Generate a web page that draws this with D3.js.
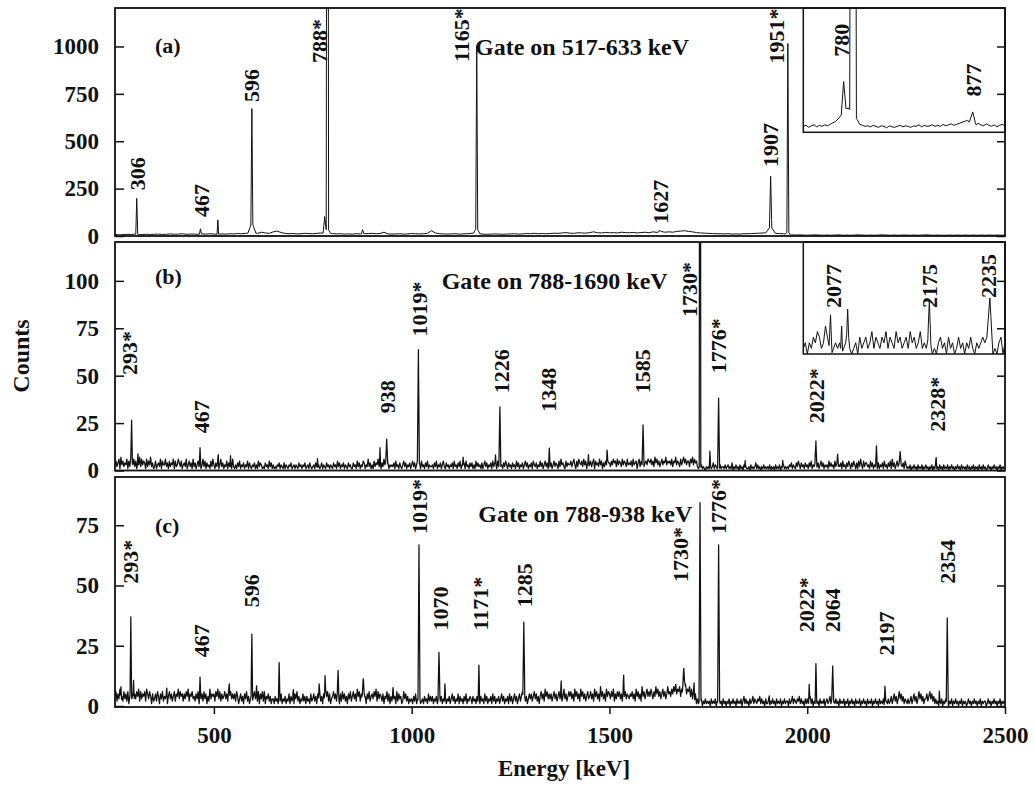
<!DOCTYPE html>
<html>
<head>
<meta charset="utf-8">
<script src="https://cdn.jsdelivr.net/npm/d3@7"></script>
<style>
  body { margin: 0; background: #fff; }
  svg { display: block; }
  text { font-family: "Liberation Serif", "Times New Roman", serif; font-weight: bold; fill: #111; }
</style>
</head>
<body>
<svg id="chart" width="1034" height="787"></svg>
<script>
// energy axis, keV
const energyDomain = [250, 2500];
const energyTicks = [500, 1000, 1500, 2000, 2500];

// ---- panel (a): background counts every 10 keV starting at 250 keV
const bgA = [
  8, 6, 7, 9, 8, 10, 7, 8, 9, 8,
  9, 10, 8, 9, 11, 9, 10, 12, 9, 10,
  10, 9, 11, 10, 12, 10, 9, 11, 10, 12,
  11, 13, 12, 14, 16, 18, 14, 20, 16, 14,
  22, 26, 18, 14, 12, 13, 11, 12, 14, 13,
  12, 14, 16, 14, 12, 13, 11, 12, 10, 11,
  10, 12, 11, 12, 13, 14, 12, 13, 20, 11,
  10, 11, 12, 10, 11, 13, 12, 11, 12, 14,
  28, 16, 12, 11, 10, 11, 12, 10, 11, 12,
  14, 16, 12, 10, 9, 10, 11, 10, 9, 10,
  11, 12, 10, 11, 13, 12, 14, 12, 13, 12,
  13, 15, 14, 16, 18, 15, 14, 17, 16, 15,
  18, 22, 17, 16, 19, 17, 18, 16, 20, 18,
  17, 19, 16, 18, 20, 17, 22, 19, 24, 20,
  22, 20, 24, 26, 28, 24, 22, 18, 16, 15,
  14, 13, 12, 12, 11, 12, 10, 11, 10, 12,
  12, 13, 14, 15, 16, 18, 16, 14, 13, 12,
  8, 6, 5, 6, 5, 4, 5, 6, 5, 4,
  5, 4, 5, 6, 4, 5, 4, 5, 6, 5,
  4, 5, 4, 5, 6, 5, 4, 5, 4, 5,
  5, 4, 5, 4, 5, 6, 5, 4, 5, 4,
  4, 5, 4, 5, 4, 5, 4, 5, 4, 5,
  4, 5, 4, 5, 4, 5
];
// peaks: [energy, height above background, half width]
const peaksA = [
  [305, 190, 2.5], [466, 28, 2.5], [510, 76, 2], [596, 600, 2.5], [596, 55, 10],
  [780, 82, 4], [787, 6000, 3], [787, 30, 9], [876, 22, 3],
  [1164.5, 960, 2.5], [1164.5, 30, 8], [1627, 8, 3],
  [1907.5, 264, 3], [1907.5, 35, 12], [1951, 990, 2.5], [1951, 18, 6]
];
// labels: [text, energy, counts at the foot of the text]
const labelsA = [
  ["306", 305.6, 241], ["467", 469, 100], ["596", 595.6, 707], ["788*", 765.7, 913],
  ["1165*", 1126.5, 918], ["1627", 1627.8, 65], ["1907", 1907.5, 364], ["1951*", 1921, 910]
];
const ticksA = [0, 250, 500, 750, 1000];

// inset of (a): counts every 2 keV from 750 keV
const insetBgA = [
  12, 14, 10, 13, 15, 11, 14, 12, 15, 13,
  16, 19, 22, 27, 34, 40, 48, 48, 40, 32,
  26, 16, 14, 12, 13, 11, 14, 12, 10, 13,
  12, 9, 13, 11, 10, 12, 14, 11, 13, 12,
  10, 13, 12, 15, 11, 14, 12, 13, 15, 12,
  14, 12, 16, 13, 15, 17, 14, 16, 18, 20,
  22, 24, 20, 16, 14, 18, 15, 13, 17, 14,
  12, 15, 11, 14, 16, 13
];
const insetPeaksA = [[780, 62, 1.8], [787, 3000, 2.5], [876, 25, 2.5]];
const insetLabelsA = [["780", 778.6, 152], ["877", 876.4, 72]];

// ---- panel (b): background counts every 2.5 keV starting at 250 keV
const bgB = (
  "3524617352" + "4361527436" + "2514372635" + "4162537241" +
  "2513426153" + "3624152436" + "1523642513" + "4261352416" +
  "2413524136" + "2514231526" + "3142513624" + "1325142316" +
  "2131425132" + "4132514213" + "2413152431" + "2142315241" +
  "3121324132" + "1413213241" + "2313214231" + "3241231421" +
  "2314213124" + "1321423132" + "1423152413" + "2413214231" +
  "1423152413" + "2541326241" + "3152436251" + "4263524132" +
  "3241523142" + "1352413241" + "3524136241" + "5231425132" +
  "2314251324" + "1352142313" + "2415231425" + "1324152314" +
  "2413152423" + "1413524132" + "4152431524" + "2314253142" +
  "3142315241" + "3241352413" + "2415324132" + "5241352413" +
  "2413524315" + "2634215243" + "3524631526" + "4352635142" +
  "3524615342" + "6351425364" + "4253645263" + "5426354263" +
  "4352634514" + "6253724536" + "5463527463" + "5246354735" +
  "4536254735" + "4263574635" + "5264736452" + "1213121021" +
  "2131241321" + "2031221312" + "3121402131" + "2031203121" +
  "1203121241" + "3120213121" + "2130212031" + "2130213121" +
  "2132413214" + "2531423142" + "3142513241" + "2413524132" +
  "3152423152" + "4132415231" + "4253142531" + "4152631524" +
  "4231524132" + "5141324152" + "3142516241" + "3524132415" +
  "3121302131" + "2031213021" + "3120213021" + "4120312031" +
  "2130213120" + "2131203121" + "2031202130" + "2120312031" +
  "2013120213" + "1202130212" + "1"
).split("").map(Number);
const peaksB = [
  [292, 22, 2], [308, 5, 1.5], [465, 8, 2], [511, 5, 1.5], [542, 5, 1.5], [762, 5, 1.5],
  [920, 7, 1.5], [937, 14, 2.5], [1017, 61, 2.5], [1130, 5, 1.5], [1212, 5, 1.5],
  [1223, 30, 2.5], [1348, 9, 2], [1447, 6, 1.5], [1494, 6, 1.5], [1585, 17, 2.5],
  [1729, 500, 2], [1754, 8, 1.5], [1776, 37, 2.5], [1843, 4, 1.5], [1938, 4, 1.5],
  [2022, 14, 2.5], [2077, 7, 2], [2175, 8, 2], [2235, 9, 2.5], [2326, 4, 1.5]
];
const labelsB = [
  ["293*", 285.4, 50.4], ["467", 469.2, 19.6], ["938", 938.9, 30.2], ["1019*", 1018.5, 70.6],
  ["1226", 1227.6, 40.7], ["1348", 1346, 31], ["1585", 1582.3, 40.7], ["1730*", 1701, 81],
  ["1776*", 1774.5, 51.3], ["2022*", 2022, 24.9], ["2328*", 2329.8, 20.5]
];
const ticksB = [0, 25, 50, 75, 100];

// inset of (b): counts every 2 keV from 2050 keV
const insetBgB = [
  1, 2, 0, 2, 1, 3, 2, 4, 3, 1,
  2, 5, 3, 1, 0, 1, 2, 1, 2, 0,
  1, 2, 5, 1, 0, 1, 2, 0, 3, 1,
  2, 3, 1, 2, 4, 1, 3, 2, 1, 3,
  2, 4, 1, 3, 2, 1, 4, 2, 3, 1,
  2, 3, 1, 4, 2, 3, 1, 2, 4, 1,
  2, 1, 3, 2, 0, 1, 0, 2, 3, 1,
  2, 0, 3, 1, 2, 0, 1, 3, 1, 2,
  0, 2, 1, 3, 1, 0, 2, 1, 2, 3,
  2, 3, 2, 1, 0, 1, 0, 2, 3, 0,
  2
];
const insetPeaksB = [[2077, 6.5, 1.5], [2088, 5, 1], [2094, 3, 1], [2175, 7, 1.5], [2235, 8.5, 3]];
const insetLabelsB = [["2077", 2079.7, 8.2], ["2175", 2174.6, 8.2], ["2235", 2233.8, 10]];

// ---- panel (c): background counts every 2.5 keV starting at 250 keV
const bgC = (
  "4625371426" + "3526147352" + "5364726354" + "6275364152" +
  "3526415362" + "4351463524" + "6254736452" + "5364725463" +
  "4253614352" + "6351427354" + "5264736253" + "4635274635" +
  "3526413524" + "1536241352" + "4635261536" + "2614352413" +
  "3142314251" + "3241325142" + "4153624132" + "5241423152" +
  "3524153624" + "1537462513" + "4635264152" + "6352415362" +
  "4635274625" + "3624153624" + "5364726354" + "2514362514" +
  "2534162534" + "1263524132" + "3142513241" + "2314231524" +
  "2413241352" + "4132413241" + "3524132514" + "2314251324" +
  "3142314231" + "4231524132" + "4152413241" + "3524132415" +
  "2413524135" + "2463524135" + "3524635241" + "4635274635" +
  "3524635246" + "3524735246" + "4635274635" + "2746352463" +
  "4635274635" + "2846352746" + "5364725364" + "6352746354" +
  "3546352746" + "3528463574" + "6475364857" + "4635746358" +
  "5647586957" + "6847586957" + "6847362513" + "1213021312" +
  "1203121302" + "1312031202" + "1302131203" + "1213024131" +
  "2031241321" + "3241312031" + "1302131203" + "1213021312" +
  "2031241321" + "3241312031" + "3124130213" + "1203121302" +
  "3124130213" + "1203121302" + "1302131203" + "1213021312" +
  "0312130213" + "1203121302" + "2131241352" + "4136352413" +
  "2131241352" + "4136352413" + "3524635241" + "3120213021" +
  "3120213021" + "3120213021" + "2013120213" + "1202130212" +
  "2013120213" + "1202130212" + "1"
).split("").map(Number);
const peaksC = [
  [265, 7, 1.5], [290, 30, 2], [297, 8, 1.5], [381, 4, 1.5], [465, 8, 2], [539, 4, 1.5],
  [596, 26, 2], [608, 4, 1.5], [665, 14, 2], [701, 4, 1.5], [766, 5, 1.5], [781, 8, 1.5],
  [814, 10, 2], [878, 6, 4], [953, 3, 1.5], [1018.5, 64, 2.5], [1069, 18, 2.5],
  [1084, 6, 1.5], [1170, 14, 2], [1283.5, 31, 2.5], [1378, 6, 1.5], [1536, 7, 1.5],
  [1688, 8, 4], [1714, 6, 1.5], [1729, 83, 2.5], [1776, 65, 2.5], [1904, 3, 1.5],
  [2005, 7, 1.5], [2022, 15, 2], [2064.5, 16, 2.5], [2196.5, 7, 2], [2334, 5, 1.5],
  [2354, 35, 2.5]
];
const labelsC = [
  ["293*", 287.9, 50.7], ["467", 469.2, 20.2], ["596", 595.6, 41], ["1019*", 1018.5, 71.4],
  ["1070", 1071.6, 31.3], ["1171*", 1172.8, 31.3], ["1285", 1285, 41], ["1730*", 1679.6, 51.4],
  ["1776*", 1774.5, 71.4], ["2022*", 1998, 30.6], ["2064", 2062.6, 30.6], ["2197", 2200.7, 20.9],
  ["2354", 2355, 50.7]
];
const ticksC = [0, 25, 50, 75];

// ---------------------------------------------------------------------------

// background plus triangular peaks, sampled at the grid and at each peak's corners
function spectrum(bg, e0, step, peaks) {
  const bgAt = e => {
    const t = (e - e0) / step;
    const i = Math.max(0, Math.min(bg.length - 2, Math.floor(t)));
    return bg[i] + (bg[i + 1] - bg[i]) * (t - i);
  };
  const peakAt = e => d3.sum(peaks, ([p, h, w]) => Math.max(0, h * (1 - Math.abs(e - p) / w)));
  const es = bg.map((v, i) => e0 + i * step);
  peaks.forEach(([p, h, w]) => es.push(p - w, p, p + w));
  return es.sort((a, b) => a - b).map(e => [e, bgAt(e) + peakAt(e)]);
}

const svg = d3.select("#chart");
const x = d3.scaleLinear().domain(energyDomain).range([115, 1005]);
const left = 115, right = 1005;

const panels = [
  { key: "a", top: 8, bottom: 236, zero: 236, yMax: 1203, ticks: ticksA, lw: 1,
    bg: bgA, e0: 250, step: 10, peaks: peaksA, labels: labelsA,
    tag: "(a)", tagY: 53, gate: "Gate on 517-633 keV", gateX: 475, gateY: 55,
    inset: { top: 8, bottom: 132.3, domain: [750, 900], yMax: 250, bg: insetBgA, e0: 750, step: 2,
             peaks: insetPeaksA, labels: insetLabelsA } },
  { key: "b", top: 242, bottom: 470.5, zero: 470.5, yMax: 120.5, ticks: ticksB, lw: 1.25,
    bg: bgB, e0: 250, step: 2.5, peaks: peaksB, labels: labelsB,
    tag: "(b)", tagY: 284, gate: "Gate on 788-1690 keV", gateX: 441.7, gateY: 288.5,
    inset: { top: 242, bottom: 354, domain: [2050, 2250], yMax: 20, bg: insetBgB, e0: 2050, step: 2,
             peaks: insetPeaksB, labels: insetLabelsB } },
  { key: "c", top: 477, bottom: 707, zero: 706, yMax: 95, ticks: ticksC, lw: 1.25,
    bg: bgC, e0: 250, step: 2.5, peaks: peaksC, labels: labelsC,
    tag: "(c)", tagY: 533, gate: "Gate on 788-938 keV", gateX: 478.3, gateY: 521.5 }
];

const defs = svg.append("defs");

function drawLabels(g, labels, xs, ys) {
  g.selectAll(null).data(labels).join("text")
    .attr("transform", d => `translate(${xs(d[1])},${ys(d[2])}) rotate(-90)`)
    .attr("dy", "0.35em")
    .attr("font-size", 22)
    .text(d => d[0]);
}

panels.forEach(p => {
  const y = d3.scaleLinear().domain([0, p.yMax]).range([p.zero, p.top]);
  const g = svg.append("g");

  defs.append("clipPath").attr("id", "clip-" + p.key)
    .append("rect").attr("x", left).attr("y", p.top)
    .attr("width", right - left).attr("height", p.bottom - p.top);

  g.append("path")
    .datum(spectrum(p.bg, p.e0, p.step, p.peaks))
    .attr("clip-path", `url(#clip-${p.key})`)
    .attr("fill", "none")
    .attr("stroke", "#111")
    .attr("stroke-width", p.lw)
    .attr("stroke-linejoin", "round")
    .attr("d", d3.line().x(d => x(d[0])).y(d => y(d[1])));

  drawLabels(g, p.labels, x, y);

  if (p.inset) {
    const s = p.inset;
    const ix = d3.scaleLinear().domain(s.domain).range([803.3, right]);
    const iy = d3.scaleLinear().domain([0, s.yMax]).range([s.bottom, s.top]);
    const ig = g.append("g");
    defs.append("clipPath").attr("id", "iclip-" + p.key)
      .append("rect").attr("x", 803.3).attr("y", s.top)
      .attr("width", right - 803.3).attr("height", s.bottom - s.top);
    ig.append("rect")
      .attr("x", 803.3).attr("y", s.top)
      .attr("width", right - 803.3).attr("height", s.bottom - s.top)
      .attr("fill", "#fff");
    ig.append("path")
      .datum(spectrum(s.bg, s.e0, s.step, s.peaks))
      .attr("clip-path", `url(#iclip-${p.key})`)
      .attr("fill", "none")
      .attr("stroke", "#111")
      .attr("stroke-width", 1)
      .attr("d", d3.line().x(d => ix(d[0])).y(d => iy(d[1])));
    drawLabels(ig, s.labels, ix, iy);
    ig.append("rect")
      .attr("x", 803.3).attr("y", s.top)
      .attr("width", right - 803.3).attr("height", s.bottom - s.top)
      .attr("fill", "none").attr("stroke", "#111").attr("stroke-width", 1.5);
  }

  // left ticks pointing inwards, with labels
  const yl = g.append("g")
    .attr("transform", `translate(${left},0)`)
    .call(d3.axisLeft(y).tickValues(p.ticks).tickSize(-9).tickPadding(16).tickFormat(d3.format("d")));
  yl.select(".domain").remove();
  yl.attr("font-size", 23).attr("font-family", null);
  yl.selectAll("line").attr("stroke", "#111").attr("stroke-width", 1.5);

  // right ticks pointing inwards
  const yr = g.append("g")
    .attr("transform", `translate(${right},0)`)
    .call(d3.axisRight(y).tickValues(p.ticks).tickSize(-8).tickFormat(""));
  yr.select(".domain").remove();
  yr.selectAll("line").attr("stroke", "#111").attr("stroke-width", 1.5);

  g.append("rect")
    .attr("x", left).attr("y", p.top)
    .attr("width", right - left).attr("height", p.bottom - p.top)
    .attr("fill", "none").attr("stroke", "#111").attr("stroke-width", 1.8);

  g.append("text").attr("x", 155).attr("y", p.tagY).attr("font-size", 22).text(p.tag);
  g.append("text").attr("x", p.gateX).attr("y", p.gateY).attr("font-size", 24).text(p.gate);
});

// energy axis under the last panel
const xa = svg.append("g")
  .attr("transform", "translate(0,707)")
  .call(d3.axisBottom(x).tickValues(energyTicks).tickSize(7).tickPadding(13).tickFormat(d3.format("d")));
xa.select(".domain").remove();
xa.attr("font-size", 23).attr("font-family", null);
xa.selectAll("line").attr("stroke", "#111").attr("stroke-width", 1.5);

svg.append("text")
  .attr("transform", "translate(21,356) rotate(-90)")
  .attr("text-anchor", "middle")
  .attr("dy", "0.35em")
  .attr("font-size", 24)
  .text("Counts");

svg.append("text")
  .attr("x", 564).attr("y", 776)
  .attr("text-anchor", "middle")
  .attr("font-size", 23)
  .text("Energy [keV]");
</script>
</body>
</html>
